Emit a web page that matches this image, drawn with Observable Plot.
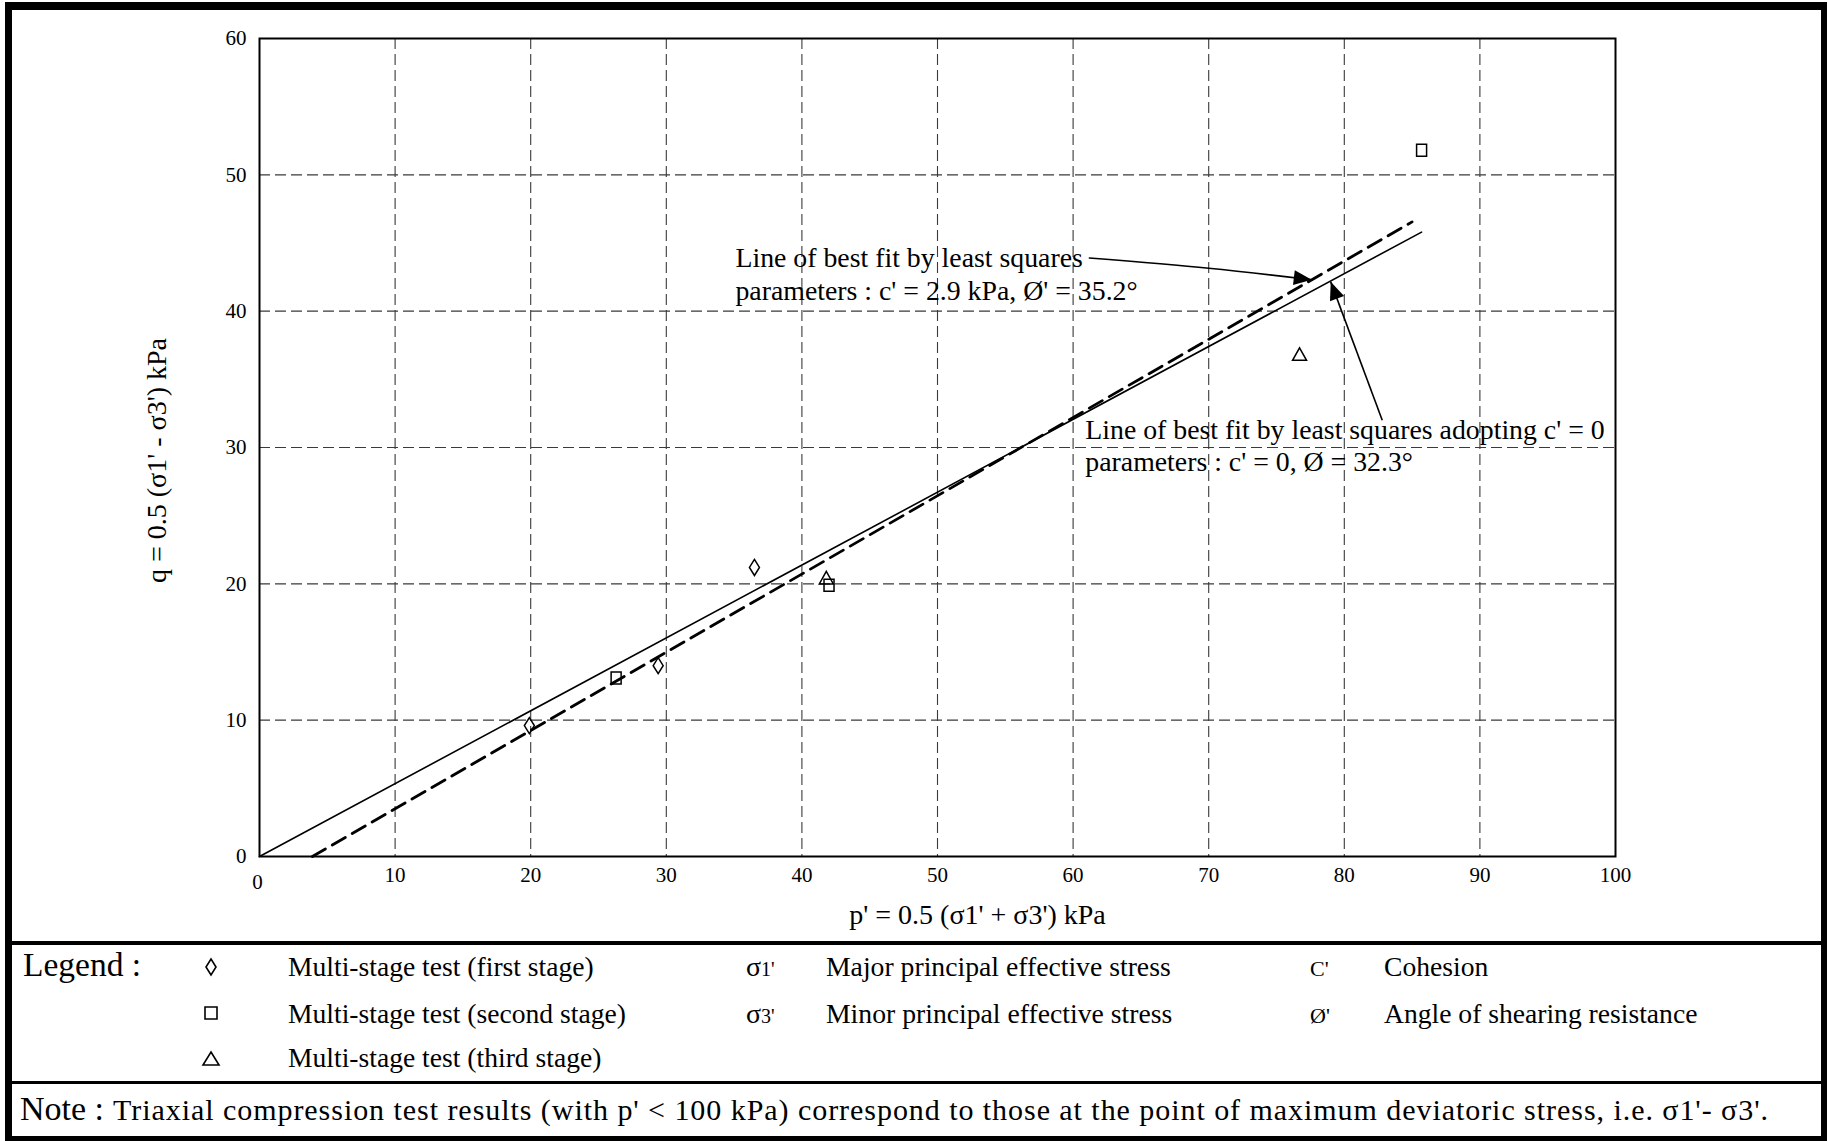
<!DOCTYPE html>
<html>
<head>
<meta charset="utf-8">
<script src="https://cdn.jsdelivr.net/npm/d3@7"></script>
<script src="https://cdn.jsdelivr.net/npm/@observablehq/plot@0.6"></script>
<style>
  html, body { margin: 0; padding: 0; background: #fff; }
  #wrap { position: relative; width: 1828px; height: 1141px; overflow: hidden; background: #fff; }
  #plot { position: absolute; left: 0; top: 0; }
  #legend { position: absolute; left: 0; top: 941px; overflow: visible; }
  #borders { position: absolute; left: 0; top: 0; pointer-events: none; }
  text { font-family: "Liberation Serif", "Times New Roman", serif; }
</style>
</head>
<body>
<div id="wrap">
  <div id="plot"></div>
  <svg id="legend" width="1828" height="200"></svg>
  <svg id="borders" width="1828" height="1141"></svg>
</div>
<script>
// ---------- data ----------
const stage1P = [19.9, 29.4, 36.5];          // Multi-stage test (first stage)  - diamonds
const stage1Q = [9.6, 14.0, 21.2];
const stage2P = [26.3, 42.0, 85.7];          // Multi-stage test (second stage) - squares
const stage2Q = [13.1, 19.9, 51.8];
const stage3P = [41.8, 76.7];                // Multi-stage test (third stage)  - triangles
const stage3Q = [20.4, 36.8];

const fitFreeP = [3.9, 85.0];                // best fit c' = 2.9 kPa, phi' = 35.2 (dashed)
const fitFreeQ = [0, 46.55];
const fitZeroP = [0, 85.7];                  // best fit adopting c' = 0, phi = 32.3 (solid)
const fitZeroQ = [0, 45.8];

const xTicks = [10, 20, 30, 40, 50, 60, 70, 80, 90, 100];
const xZeroTick = [0];
const yTicks = [0, 10, 20, 30, 40, 50, 60];
const xGrid = [10, 20, 30, 40, 50, 60, 70, 80, 90];
const yGrid = [10, 20, 30, 40, 50];

const xLabel = "p' = 0.5 (σ1' + σ3') kPa";
const yLabel = "q = 0.5 (σ1' - σ3') kPa";

const annotText = [
  "Line of best fit by least squares",
  "parameters : c' = 2.9 kPa, Ø' = 35.2°",
  "Line of best fit by least squares adopting c' = 0",
  "parameters : c' = 0, Ø = 32.3°"
];
const annotP = [35.1, 35.1, 60.9, 60.9];
const annotQ = [43.9, 41.5, 31.25, 28.95];

const arrow1P = [61.2, 70.0, 77.6];          // arrow to dashed line
const arrow1Q = [43.9, 43.15, 42.3];
const arrow2P = [82.8, 79.0];                // arrow to solid line
const arrow2Q = [32.0, 42.15];

const legendTitle = "Legend :";
const stageLabels = ["Multi-stage test (first stage)", "Multi-stage test (second stage)", "Multi-stage test (third stage)"];
const stressSymbols = ["σ1'", "σ3'"];
const stressLabels = ["Major principal effective stress", "Minor principal effective stress"];
const paramSymbols = ["C'", "Ø'"];
const paramLabels = ["Cohesion", "Angle of shearing resistance"];
const noteHead = "Note :";
const noteBody = "Triaxial compression test results (with p' < 100 kPa) correspond to those at the point of maximum deviatoric stress, i.e. σ1'- σ3'.";

// ---------- tables built from the arrays ----------
const zip = (P, Q) => P.map((p, i) => ({p, q: Q[i]}));
const stage1 = zip(stage1P, stage1Q);
const stage2 = zip(stage2P, stage2Q);
const stage3 = zip(stage3P, stage3Q);
const fitFree = zip(fitFreeP, fitFreeQ);
const fitZero = zip(fitZeroP, fitZeroQ);
const annots = annotText.map((t, i) => ({t, p: annotP[i], q: annotQ[i]}));
const arrow1 = zip(arrow1P, arrow1Q);
const arrow2 = [{p1: arrow2P[0], q1: arrow2Q[0], p2: arrow2P[1], q2: arrow2Q[1]}];

// ---------- custom symbols ----------
const diamondSym = {draw(c) { c.moveTo(0, -8); c.lineTo(5, 0); c.lineTo(0, 8); c.lineTo(-5, 0); c.closePath(); }};
const squareSym = {draw(c) { c.moveTo(-5, -6); c.lineTo(5, -6); c.lineTo(5, 6); c.lineTo(-5, 6); c.closePath(); }};
const triangleSym = {draw(c) { c.moveTo(0, -7); c.lineTo(7, 5.5); c.lineTo(-7, 5.5); c.closePath(); }};

const headMarker = (color, context) => {
  const m = d3.create("svg:marker")
    .attr("viewBox", "-20 -9 22 18")
    .attr("markerUnits", "userSpaceOnUse")
    .attr("markerWidth", 22).attr("markerHeight", 18)
    .attr("orient", "auto")
    .attr("refX", 0).attr("refY", 0);
  m.append("path").attr("d", "M0,0L-18,-7.5L-18,7.5Z").attr("fill", "black").attr("stroke", "none");
  return m.node();
};

const FONT = "'Liberation Serif', 'Times New Roman', serif";
const gridStyle = {stroke: "#3a3a3a", strokeOpacity: 1, strokeWidth: 1.1, strokeDasharray: "11,5"};
const dotStyle = {x: "p", y: "q", stroke: "black", strokeWidth: 1.5, fill: "none", r: 5};

const chart = Plot.plot({
  width: 1828,
  height: 941,
  marginLeft: 259, marginRight: 213, marginTop: 38, marginBottom: 85,
  x: {domain: [0, 100]},
  y: {domain: [0, 60]},
  style: {fontFamily: FONT, fontSize: "21px", color: "black", background: "white"},
  marks: [
    Plot.gridX(xGrid, gridStyle),
    Plot.gridY(yGrid, gridStyle),
    Plot.frame({stroke: "black", strokeWidth: 2}),
    Plot.axisY(yTicks, {tickSize: 0, tickPadding: 13, fontSize: 21, label: null}),
    Plot.axisX(xTicks, {tickSize: 0, tickPadding: 11, fontSize: 21, label: null}),
    Plot.axisX(xZeroTick, {tickSize: 0, tickPadding: 18, dx: -2, fontSize: 21, label: null}),
    Plot.line(fitZero, {x: "p", y: "q", stroke: "black", strokeWidth: 1.6}),
    Plot.line(fitFree, {x: "p", y: "q", stroke: "black", strokeWidth: 2.8, strokeDasharray: "15,8"}),
    Plot.dot(stage1, {...dotStyle, symbol: diamondSym}),
    Plot.dot(stage2, {...dotStyle, symbol: squareSym}),
    Plot.dot(stage3, {...dotStyle, symbol: triangleSym}),
    Plot.line(arrow1, {x: "p", y: "q", curve: "natural", stroke: "black", strokeWidth: 1.6, markerEnd: headMarker}),
    Plot.link(arrow2, {x1: "p1", y1: "q1", x2: "p2", y2: "q2", stroke: "black", strokeWidth: 1.6, markerEnd: headMarker}),
    Plot.text(annots, {x: "p", y: "q", text: "t", textAnchor: "start", lineAnchor: "middle", fontSize: 27.8, fill: "black"}),
    Plot.text([xLabel], {frameAnchor: "bottom", text: d => d, dx: 40, dy: 59, textAnchor: "middle", lineAnchor: "middle", fontSize: 28, fill: "black"}),
    Plot.text([yLabel], {frameAnchor: "left", text: d => d, rotate: -90, dx: -102, dy: 13, textAnchor: "middle", lineAnchor: "middle", fontSize: 28, fill: "black"})
  ]
});
document.getElementById("plot").append(chart);

// ---------- legend and note (below the plot SVG) ----------
const lg = d3.select("#legend");
const OY = 941;
const rowBase = [976, 1023, 1067].map(v => v - OY);
const rowMid = [967, 1013, 1059].map(v => v - OY);

lg.append("text").attr("x", 23).attr("y", 976 - OY).attr("font-size", 33.5).text(legendTitle);

const symPaths = [
  "M0,-8L5,0L0,8L-5,0Z",
  "M-6,-6L6,-6L6,6L-6,6Z",
  "M0,-7L8,6L-8,6Z"
];
symPaths.forEach((d, i) => {
  lg.append("path").attr("d", d).attr("transform", `translate(211,${rowMid[i]})`)
    .attr("fill", "none").attr("stroke", "black").attr("stroke-width", 1.6);
});
stageLabels.forEach((t, i) => {
  lg.append("text").attr("x", 288).attr("y", rowBase[i]).attr("font-size", 27.6).text(t);
});
stressSymbols.forEach((t, i) => {
  const tx = lg.append("text").attr("x", 746).attr("y", rowBase[i]).attr("font-size", 28);
  tx.append("tspan").text(t.slice(0, 1));
  tx.append("tspan").attr("font-size", 20).text(t.slice(1));
});
stressLabels.forEach((t, i) => {
  lg.append("text").attr("x", 826).attr("y", rowBase[i]).attr("font-size", 27.7).text(t);
});
paramSymbols.forEach((t, i) => {
  lg.append("text").attr("x", 1310).attr("y", rowBase[i]).attr("font-size", 22).text(t);
});
paramLabels.forEach((t, i) => {
  lg.append("text").attr("x", 1384).attr("y", rowBase[i]).attr("font-size", 27.6).text(t);
});
lg.append("text").attr("x", 20).attr("y", 1120 - OY).attr("font-size", 34).text(noteHead);
lg.append("text").attr("x", 113).attr("y", 1120 - OY).attr("font-size", 30)
  .attr("textLength", 1655).attr("lengthAdjust", "spacing").text(noteBody);

// ---------- borders ----------
const bd = d3.select("#borders");
const bars = [
  [5, 2, 1822, 8],      // top
  [5, 2, 7, 1139],      // left
  [1821, 2, 6, 1139],   // right
  [5, 1136, 1822, 5],   // bottom
  [5, 941, 1822, 4],    // separator plot / legend
  [5, 1081, 1822, 3]    // separator legend / note
];
bars.forEach(([x, y, w, h]) => bd.append("rect").attr("x", x).attr("y", y).attr("width", w).attr("height", h).attr("fill", "black"));
</script>
</body>
</html>
